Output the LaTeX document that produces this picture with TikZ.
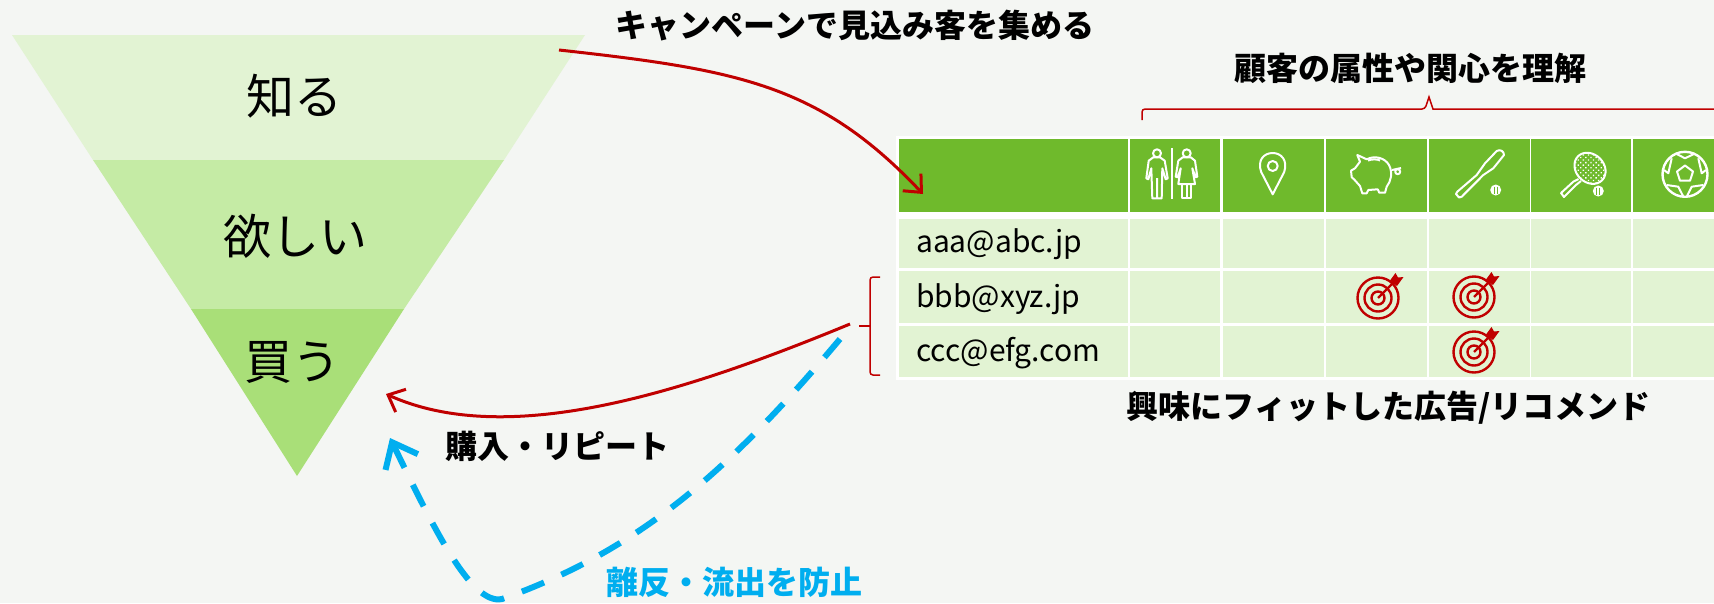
\documentclass[tikz,border=0pt]{standalone}
\usepackage{fontspec}
\setmainfont{Noto Sans CJK JP}
\usetikzlibrary{arrows.meta,patterns.meta}
\definecolor{pagebg}{HTML}{F4F6F3}
\definecolor{paleband}{HTML}{E2F3D3}
\definecolor{midband}{HTML}{C5EBA5}
\definecolor{deepband}{HTML}{A9DF78}
\definecolor{headgreen}{HTML}{6FBA2C}
\definecolor{arrowred}{HTML}{C00000}
\definecolor{arrowblue}{HTML}{00AEEF}
\tikzset{
	bandtext/.style={font=\fontsize{48}{52}\selectfont},
	boldtext/.style={font=\fontsize{32}{36}\selectfont\bfseries},
	mailtext/.style={font=\fontsize{30}{34}\selectfont, anchor=west, inner sep=0},
	headcell/.style={fill=headgreen, inner sep=0, minimum height=73},
	rowcell/.style={fill=paleband, inner sep=0},
	iconline/.style={draw=white, line width=2, line join=round},
	redarrow/.style={draw=arrowred, line width=3, -{Straight Barb[length=14,width=25]}},
	brace/.style={draw=arrowred, line width=1.5, rounded corners=3},
	bullseye/.pic={
		\draw[arrowred, line width=2.4] (0,0) circle (20.5) (0,0) circle (13.5) (0,0) circle (6.5);
		\draw[arrowred, line width=2.4] (0,0) -- (16,-16);
		\fill[arrowred] (12,-17.5) -- (17.5,-25) -- (20,-20.5) -- (25.5,-21) -- (19,-12) -- cycle;
	}
}
\begin{document}
\begin{tikzpicture}[x=1pt,y=-1pt]
	\useasboundingbox (0,0) rectangle (1714,603);
	\fill[pagebg] (0,0) rectangle (1714,603);

	\fill[paleband] (12,35) -- (585,35) -- (504,160) -- (93,160) -- cycle;
	\fill[midband] (93,160) -- (504,160) -- (404,309) -- (191,309) -- cycle;
	\fill[deepband] (191,309) -- (404,309) -- (297,476) -- cycle;
	\node (know) at (294,96) [bandtext] {知る};
	\node (want) at (295,236) [bandtext] {欲しい};
	\node (buy) at (292,362) [bandtext] {買う};

	\fill[white] (896,136) rectangle (1714,380);
	\node (h0) at (1013.5,175.5) [headcell, minimum width=229] {};
	\node (h1) at (1175,175.5) [headcell, minimum width=90] {};
	\node (h2) at (1273,175.5) [headcell, minimum width=101] {};
	\node (h3) at (1376.5,175.5) [headcell, minimum width=101] {};
	\node (h4) at (1479,175.5) [headcell, minimum width=101] {};
	\node (h5) at (1581,175.5) [headcell, minimum width=100] {};
	\node (h6) at (1673.5,175.5) [headcell, minimum width=81] {};

	\node (a0) at (1013.5,243.5) [rowcell, minimum width=229, minimum height=49] {};
	\node (a1) at (1175,243.5) [rowcell, minimum width=90, minimum height=49] {};
	\node (a2) at (1273,243.5) [rowcell, minimum width=101, minimum height=49] {};
	\node (a3) at (1376.5,243.5) [rowcell, minimum width=101, minimum height=49] {};
	\node (a4) at (1479,243.5) [rowcell, minimum width=101, minimum height=49] {};
	\node (a5) at (1581,243.5) [rowcell, minimum width=100, minimum height=49] {};
	\node (a6) at (1673.5,243.5) [rowcell, minimum width=81, minimum height=49] {};

	\node (b0) at (1013.5,297) [rowcell, minimum width=229, minimum height=52] {};
	\node (b1) at (1175,297) [rowcell, minimum width=90, minimum height=52] {};
	\node (b2) at (1273,297) [rowcell, minimum width=101, minimum height=52] {};
	\node (b3) at (1376.5,297) [rowcell, minimum width=101, minimum height=52] {};
	\node (b4) at (1479,297) [rowcell, minimum width=101, minimum height=52] {};
	\node (b5) at (1581,297) [rowcell, minimum width=100, minimum height=52] {};
	\node (b6) at (1673.5,297) [rowcell, minimum width=81, minimum height=52] {};

	\node (c0) at (1013.5,351.5) [rowcell, minimum width=229, minimum height=51] {};
	\node (c1) at (1175,351.5) [rowcell, minimum width=90, minimum height=51] {};
	\node (c2) at (1273,351.5) [rowcell, minimum width=101, minimum height=51] {};
	\node (c3) at (1376.5,351.5) [rowcell, minimum width=101, minimum height=51] {};
	\node (c4) at (1479,351.5) [rowcell, minimum width=101, minimum height=51] {};
	\node (c5) at (1581,351.5) [rowcell, minimum width=100, minimum height=51] {};
	\node (c6) at (1673.5,351.5) [rowcell, minimum width=81, minimum height=51] {};

	\node (mail1) at (916,244) [mailtext] {aaa@abc.jp};
	\node (mail2) at (916,299) [mailtext] {bbb@xyz.jp};
	\node (mail3) at (916,353) [mailtext] {ccc@efg.com};

	\draw[iconline] (1157,153.3) circle (4);
	\draw[iconline] (1153.3,157.3) -- (1148.7,160.7) -- (1146.3,178.3) -- (1148.3,179.3) -- (1151.3,168.3) -- (1152.3,198.3) -- (1161.7,198.3) -- (1162.3,168.3) -- (1165.7,179.3) -- (1167.7,178.3) -- (1164.7,160.7) -- (1160,157.3) -- cycle (1157,178) -- (1157,198);
	\draw[iconline] (1171.7,148.3) -- (1171.7,199);
	\draw[iconline] (1186.7,153.3) circle (4);
	\draw[iconline] (1182.7,157.3) -- (1178.3,160.7) -- (1175.7,176.7) -- (1177.7,177.3) -- (1180.7,168.3) -- (1178.3,184) -- (1195,184) -- (1192.3,168.3) -- (1195.7,177.3) -- (1197.3,176.7) -- (1195,160.7) -- (1190.7,157.3) -- cycle;
	\draw[iconline] (1182.3,184) -- (1182.3,198.3) -- (1191,198.3) -- (1191,184) (1186.7,184) -- (1186.7,198.3);

	\draw[iconline] (1272.7,194.3) -- (1261.2,172) .. controls (1257,160) and (1264,153) .. (1272.7,153) .. controls (1281,153) and (1288,160) .. (1284.2,172) -- cycle;
	\draw[iconline] (1272.7,166) circle (5);

	\draw[iconline] (1357.3,155) -- (1366.7,159.3) .. controls (1375,155) and (1385,158) .. (1389,165) .. controls (1393,173) and (1391,181) .. (1386.7,186.7) -- (1385,192.7) -- (1379.3,192.7) -- (1377.7,189.3) -- (1368.3,190) -- (1366.7,193.3) -- (1362.3,193.3) -- (1360,186) -- (1354,179.3) -- (1351.7,177.3) -- (1351,170.7) -- (1355,168.3) -- (1360,161.7) -- cycle;
	\draw[iconline] (1392,170) -- (1401,168) (1397.7,171.7) circle (2.5);
	\draw[iconline] (1368,160.5) .. controls (1372,159) and (1377,159) .. (1380,160.5);

	\draw[iconline] (1457.3,191.7) -- (1476.7,175) -- (1485,163.3) -- (1496.7,151) .. controls (1500,149) and (1504,151) .. (1504,155) -- (1493.3,168.3) -- (1483.3,175) -- (1461.7,196.7) -- (1459,197.5) -- (1456,194) -- cycle;
	\fill[white] (1495.7,190) circle (5.5);
	\draw[headgreen, line width=1] (1494,186.5) -- (1494,193.5) (1497.4,186.5) -- (1497.4,193.5);

	\draw[iconline, pattern={Dots[distance=3.6,radius=0.95,angle=45]}, pattern color=white] (1590,168.3) [rotate around={-45:(1590,168.3)}] ellipse (17 and 14);
	\draw[iconline] (1578.5,179) -- (1573.3,181.7) -- (1561,193) -- (1564,197) -- (1576,185) -- (1581,181);
	\fill[white] (1598.3,191) circle (5.5);
	\draw[headgreen, line width=1] (1596.8,187.5) -- (1596.8,194.5) (1599.8,187.5) -- (1599.8,194.5);

	\draw[iconline, line width=2.4] (1685,174.3) circle (22.5);
	\draw[iconline] (1685,165.5) -- (1693,171.5) -- (1690,180.7) -- (1680,180.7) -- (1677,171.5) -- cycle;
	\draw[iconline] (1676.7,154) -- (1685,158.3) -- (1694,154);
	\draw[iconline] (1671.7,158.3) -- (1668.3,173.3) -- (1664,170);
	\draw[iconline] (1698.3,158.3) -- (1701.7,173.3) -- (1706,170);
	\draw[iconline] (1666.7,185) -- (1678.3,186.7) -- (1683,196);
	\draw[iconline] (1703.3,185) -- (1691.7,186.7) -- (1687,196);

	\pic (target1) at (1378,298) {bullseye};
	\pic (target2) at (1474,297) {bullseye};
	\pic (target3) at (1474,352) {bullseye};

	\draw[brace] (1142,120) -- (1142,109) -- (1425,109) to[sharp corners] (1429,97) to[sharp corners] (1433,109) -- (1714,109);
	\draw[brace] (880,277) -- (870,277) -- (870,375) -- (880,375);
	\draw[brace] (859,326) -- (870,326);

	\coordinate (campaignstart) at (559,50);
	\coordinate (campaignend) at (923,194);
	\coordinate (repeatstart) at (850,324);
	\coordinate (repeatend) at (386,394);
	\coordinate (churnstart) at (840,339);
	\coordinate (churnlow) at (502,599);
	\coordinate (churnend) at (390,438);

	\draw[redarrow] (campaignstart) .. controls (740,70) and (820,85) .. (campaignend);
	\draw[redarrow] (repeatstart) .. controls (690,390) and (510,450) .. (repeatend);
	\draw[draw=arrowblue, line width=6, dash pattern=on 24 off 19, -{Straight Barb[length=22,width=36]}] (churnstart) .. controls (730,470) and (640,550) .. (churnlow) .. controls (470,606) and (430,520) .. (churnend);

	\node (campaign) at (855,26) [boldtext] {キャンペーンで見込み客を集める};
	\node (profile) at (1410,68) [boldtext] {顧客の属性や関心を理解};
	\node (recommend) at (1388.5,408) [boldtext] {興味にフィットした広告/リコメンド};
	\node (repeat) at (557,446) [boldtext] {購入・リピート};
	\node (churn) at (734.5,582) [boldtext, text=arrowblue] {離反・流出を防止};
\end{tikzpicture}
\end{document}
